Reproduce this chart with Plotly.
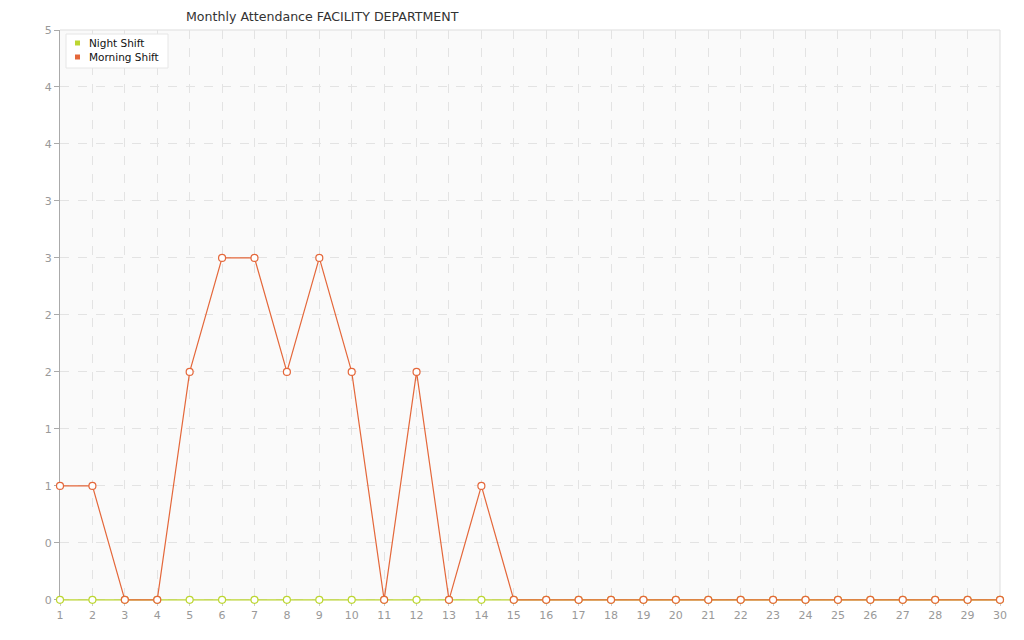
import plotly.graph_objects as go

days = list(range(1, 31))
night_shift = [0] * 30
morning_shift = [1, 1, 0, 0, 2, 3, 3, 2, 3, 2, 0, 2, 0, 1, 0, 0, 0, 0, 0, 0,
                 0, 0, 0, 0, 0, 0, 0, 0, 0, 0]
y_tickvals = [0, 0.5, 1, 1.5, 2, 2.5, 3, 3.5, 4, 4.5, 5]
y_ticktext = ["0", "0", "1", "1", "2", "2", "3", "3", "4", "4", "5"]
series_names = ["Night Shift", "Morning Shift"]

NIGHT = "#bcd631"
MORNING = "#e4673a"

# page is offset by 8px body margin
OFF = 8
PL, PR, PT, PB = 60, 1000, 30, 601  # target plot box in screenshot coords
W, H = 1024, 640
pw, ph = PR - PL, PB - PT
YMIN = -0.01

def px(x):
    return (x - PL) / pw

def py(y):
    return (PB - y) / ph

fig = go.Figure()
for name, vals, col in [(series_names[0], night_shift, NIGHT),
                        (series_names[1], morning_shift, MORNING)]:
    fig.add_trace(go.Scatter(x=days, y=vals, mode="lines+markers", name=name,
                             line=dict(color=col, width=1.2), showlegend=False,
                             marker=dict(symbol="circle", size=7, color="white",
                                         line=dict(color=col, width=1.2)),
                             cliponaxis=False))

fig.update_layout(
    width=W, height=H,
    margin=dict(l=PL - OFF, r=W - (PR - OFF), t=PT - OFF, b=H - (PB - OFF)),
    paper_bgcolor="white", plot_bgcolor="#fafafa",
    font=dict(family="DejaVu Sans", size=11, color="#999"),
    title=dict(text="Monthly Attendance FACILITY DEPARTMENT", x=(186 - OFF) / W, xanchor="left",
               xref="container", y=1 - (17 - OFF) / H, yanchor="middle", yref="container",
               font=dict(family="DejaVu Sans", size=12.6, color="#333")),
    showlegend=False,
)
fig.update_xaxes(range=[1, 30], tickvals=days, showgrid=True, gridcolor="#e3e3e3",
                 griddash="dash", gridwidth=1, zeroline=False, showline=False,
                 ticks="outside", ticklen=4, tickcolor="#ccc", layer="below traces",
                 tickfont=dict(size=11, color="#999"))
fig.update_yaxes(range=[YMIN, 5], tickvals=y_tickvals, ticktext=y_ticktext, showgrid=True,
                 gridcolor="#e3e3e3", griddash="dash", gridwidth=1, zeroline=False,
                 showline=True, linecolor="#aaa", ticks="outside", ticklen=5, tickcolor="#aaa",
                 layer="below traces", tickfont=dict(size=11, color="#999"))
# right / top borders
fig.add_shape(type="line", xref="paper", yref="paper", x0=1, x1=1, y0=0, y1=1,
              line=dict(color="#ddd", width=1), layer="below")
fig.add_shape(type="line", xref="paper", yref="paper", x0=0, x1=1, y0=1, y1=1,
              line=dict(color="#ddd", width=1), layer="below")

# legend box
fig.add_shape(type="rect", xref="paper", yref="paper", x0=px(66), x1=px(168), y0=py(68), y1=py(34),
              line=dict(color="#e6e6e6", width=1), fillcolor="white", layer="above")
for i, (name, col) in enumerate(zip(series_names, [NIGHT, MORNING])):
    yc = 43 + 14 * i
    fig.add_shape(type="rect", xref="paper", yref="paper", x0=px(75), x1=px(80),
                  y0=py(yc + 2.5), y1=py(yc - 2.5), line=dict(width=0), fillcolor=col,
                  layer="above")
    fig.add_annotation(x=px(87), y=py(yc), xref="paper", yref="paper", text=name,
                       showarrow=False, xanchor="left", yanchor="middle",
                       font=dict(family="DejaVu Sans", size=10.5, color="#111"))

fig.write_html("out.html")
